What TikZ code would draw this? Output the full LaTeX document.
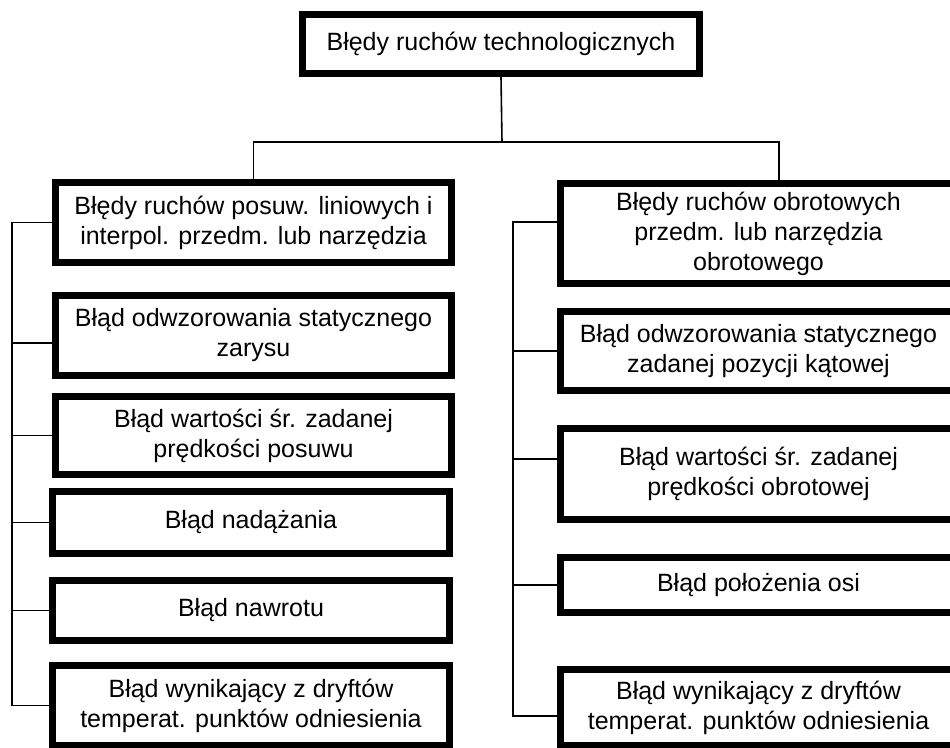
\documentclass[tikz,border=0pt]{standalone}
\usepackage{fontspec}
\setmainfont{Liberation Sans}
\newcommand{\boxfont}{\fontsize{25}{30}\selectfont}
\begin{document}
\begin{tikzpicture}[x=1pt,y=-1pt,
        errbox/.style={draw,line width=7pt,align=center,font=\boxfont,inner sep=2pt,minimum width=396pt},
        link/.style={line width=1.6pt}]
        \path[use as bounding box] (0,0) rectangle (950,747);
        \clip (0,0) rectangle (950,747);

        % top
        \node[errbox,minimum width=397pt,minimum height=59pt] at (501,44) (T) {Błędy ruchów technologicznych};

        % left column
        \node[errbox,minimum height=80pt] at (253.5,222.5) (L1) {Błędy ruchów posuw. liniowych i\\interpol. przedm. lub narzędzia};
        \node[errbox,minimum height=80pt] at (253.5,335.5) (L2) {Błąd odwzorowania statycznego\\zarysu};
        \node[errbox,minimum height=78pt] at (253.5,435.5) (L3) {Błąd wartości śr. zadanej\\prędkości posuwu};
        \node[errbox,minimum width=397pt,minimum height=62pt] at (251,522.5) (L4) {Błąd nadążania};
        \node[errbox,minimum width=397pt,minimum height=60pt] at (251,610.5) (L5) {Błąd nawrotu};
        \node[errbox,minimum width=397pt,minimum height=80pt] at (251,705.5) (L6) {Błąd wynikający z dryftów\\temperat. punktów odniesienia};

        % right column
        \node[errbox,minimum height=100pt] at (758.5,233.5) (R1) {Błędy ruchów obrotowych\\przedm. lub narzędzia\\obrotowego};
        \node[errbox,minimum height=79pt] at (758.5,351) (R2) {Błąd odwzorowania statycznego\\zadanej pozycji kątowej};
        \node[errbox,minimum height=91pt] at (758.5,474) (R3) {Błąd wartości śr. zadanej\\prędkości obrotowej};
        \node[errbox,minimum height=55pt] at (758.5,585) (R4) {Błąd położenia osi};
        \node[errbox,minimum height=76pt] at (758.5,707.5) (R5) {Błąd wynikający z dryftów\\temperat. punktów odniesienia};

        \coordinate (split) at (502,142);
        \coordinate (r1top) at ([xshift=20.5pt]R1.north);
        \coordinate (lt) at (12,0);
        \coordinate (rt) at (513,0);
        \coordinate (l2in) at ([yshift=-7.5pt]L2.west);
        \coordinate (r1in) at ([yshift=11.5pt]R1.west);
        \coordinate (r3in) at ([yshift=15pt]R3.west);
        \coordinate (r5in) at ([yshift=-8.5pt]R5.west);

        \draw[link] (T.south) -- (split);
        \draw[link] (L1.north) |- (split) -| (r1top);

        \draw[link] (L1.west) -| (lt |- L6.west) -- (L6.west);
        \draw[link] (lt |- l2in) -- (l2in);
        \draw[link] (lt |- L3.west) -- (L3.west);
        \draw[link] (lt |- L4.west) -- (L4.west);
        \draw[link] (lt |- L5.west) -- (L5.west);

        \draw[link] (r1in) -| (rt |- r5in) -- (r5in);
        \draw[link] (rt |- R2.west) -- (R2.west);
        \draw[link] (rt |- r3in) -- (r3in);
        \draw[link] (rt |- R4.west) -- (R4.west);
    \end{tikzpicture}
\end{document}
